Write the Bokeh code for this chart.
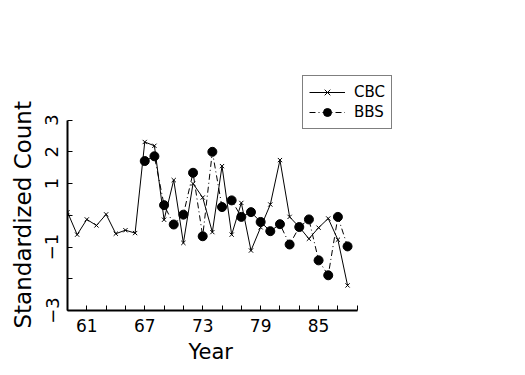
from bokeh.plotting import figure
from bokeh.models import FixedTicker, Legend, LegendItem, Title
from bokeh.embed import file_html
from bokeh.resources import INLINE

years = list(range(1959, 1989))
cbc = [0.10, -0.61, -0.13, -0.32, 0.03, -0.58, -0.47, -0.56, 2.31, 2.19,
       -0.14, 1.11, -0.87, 1.00, 0.56, -0.53, 1.55, -0.61, 0.39, -1.11,
       -0.38, 0.34, 1.74, -0.05, -0.37, -0.74, -0.39, -0.10, -0.77, -2.21]
bbs_years = list(range(1967, 1989))
bbs = [1.71, 1.86, 0.32, -0.29, 0.02, 1.34, -0.66, 2.00, 0.26, 0.47,
       -0.05, 0.10, -0.21, -0.50, -0.28, -0.92, -0.37, -0.13, -1.42, -1.89,
       -0.05, -0.98]

x_ticks = list(range(1959, 1990, 2))
x_labels = {1961: "61", 1967: "67", 1973: "73", 1979: "79", 1985: "85"}
y_ticks = [-3, -2, -1, 0, 1, 2, 3]
y_labels = {3: "3", 2: "2", 1: "1", 0: "", -1: "\u22121", -2: "", -3: "\u22123"}

FONT = "DejaVu Sans"

# frame extends past the axes' bounds so the legend can sit above/right of the axes
p = figure(width=517, height=375, output_backend="svg", toolbar_location=None,
           x_range=(1959, 1994), y_range=(-3, 4.5),
           min_border_left=67, min_border_right=112, min_border_top=72,
           min_border_bottom=65)
p.outline_line_color = None
p.xgrid.visible = False
p.ygrid.visible = False

l1 = p.line(years, cbc, line_color="black", line_width=1)
s1 = p.scatter(years, cbc, marker="x", size=6, line_color="black", line_width=1)
l2 = p.line(bbs_years, bbs, line_color="black", line_width=1, line_dash="6 3 1 3")
s2 = p.scatter(bbs_years, bbs, marker="circle", size=9, fill_color="black", line_color="black")

for ax in (p.xaxis[0], p.yaxis[0]):
    ax.axis_line_width = 2
    ax.axis_line_color = "black"
    ax.major_tick_in = 5
    ax.major_tick_out = 0
    ax.minor_tick_line_color = None
    ax.major_tick_line_color = "black"
    ax.major_label_text_font = FONT
    ax.major_label_text_font_size = "17px"
    ax.major_label_text_color = "black"

p.xaxis.ticker = FixedTicker(ticks=x_ticks)
p.xaxis.bounds = (1959, 1989)
p.xaxis.major_label_overrides = {k: x_labels.get(k, "") for k in x_ticks}
p.xaxis.major_label_standoff = 8

p.yaxis.ticker = FixedTicker(ticks=y_ticks)
p.yaxis.bounds = (-3, 3)
p.yaxis.major_label_overrides = y_labels
p.yaxis.major_label_orientation = "vertical"
p.yaxis.major_label_text_font_size = "18px"
p.yaxis.major_label_standoff = 9

xt = Title(text="Year", align="left", offset=121, text_font=FONT,
           text_font_size="21px", text_font_style="normal", text_color="black",
           standoff=6)
p.add_layout(xt, "below")
yt = Title(text="Standardized Count", align="left", offset=-18, text_font=FONT,
           text_font_size="23px", text_font_style="normal", text_color="black",
           standoff=14)
p.add_layout(yt, "left")

legend = Legend(items=[LegendItem(label="CBC", renderers=[l1, s1]),
                       LegendItem(label="BBS", renderers=[l2, s2])],
                location=(235, 181))
legend.label_text_font = FONT
legend.label_text_font_size = "15px"
legend.label_text_color = "black"
legend.label_height = 20
legend.label_width = 31
legend.label_standoff = 9
legend.border_line_color = "black"
legend.border_line_width = 1
legend.glyph_width = 36
legend.glyph_height = 20
legend.padding = 6
legend.spacing = 0
legend.margin = 0
legend.background_fill_alpha = 1
p.add_layout(legend, "center")

open("out.html", "w").write(file_html(p, INLINE))
